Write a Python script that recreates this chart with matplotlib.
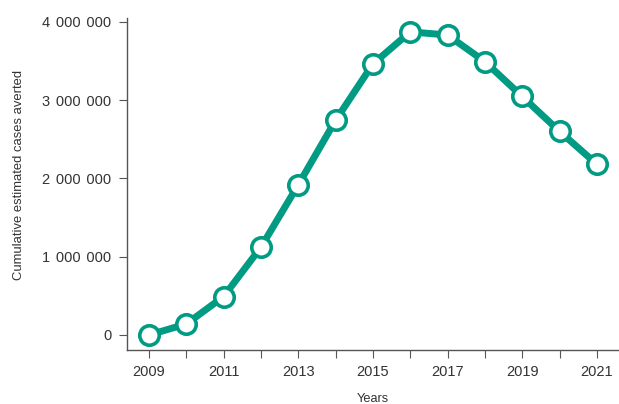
import matplotlib.pyplot as plt
from matplotlib.ticker import FuncFormatter

plt.rcParams['font.family'] = ['Liberation Sans', 'DejaVu Sans']

# Data
years = [2009, 2010, 2011, 2012, 2013, 2014, 2015, 2016, 2017, 2018, 2019, 2020, 2021]
cases_averted = [0, 140000, 490000, 1120000, 1917000, 2740000, 3460000,
                 3870000, 3830000, 3490000, 3045000, 2600000, 2180000]
label_years = [2009, 2011, 2013, 2015, 2017, 2019, 2021]
y_ticks = [0, 1000000, 2000000, 3000000, 4000000]

green = '#009b82'
grey = '#333333'

fig = plt.figure(figsize=(6.19, 4.04), dpi=100)
ax = fig.add_axes([0.205, 0.134, 0.793, 0.822])

ax.plot(years, cases_averted, color=green, linewidth=5, marker='o',
        markersize=14, markerfacecolor='white', markeredgecolor=green,
        markeredgewidth=2.6, solid_capstyle='round', zorder=3, clip_on=False)

ax.set_xlim(2008.41, 2021.56)
ax.set_ylim(-190000, 4050000)

ax.set_xticks(years)
ax.set_xticklabels([str(y) if y in label_years else '' for y in years])
ax.set_yticks(y_ticks)
ax.yaxis.set_major_formatter(FuncFormatter(lambda v, p: f'{int(v):,}'.replace(',', '\u2009\u2009')))

for side in ['top', 'right']:
    ax.spines[side].set_visible(False)
for side in ['left', 'bottom']:
    ax.spines[side].set_color('#555555')
    ax.spines[side].set_linewidth(1.0)

ax.tick_params(axis='both', direction='out', length=6, width=0.8,
               color='#555555', labelcolor=grey, labelsize=10.5, pad=5)

ax.set_xlabel('Years', fontsize=9.2, color=grey, labelpad=10)
ax.set_ylabel('Cumulative estimated cases averted', fontsize=9.4, color=grey)
ax.yaxis.set_label_coords(-0.207, 0.527)

plt.savefig('out.png', dpi=100)
